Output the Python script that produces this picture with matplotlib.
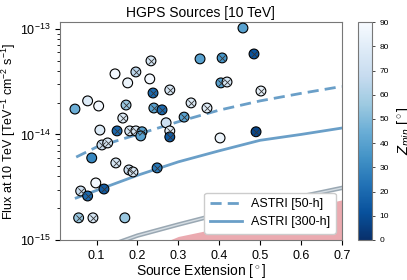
import numpy as np
import matplotlib
matplotlib.use('Agg')
import matplotlib.pyplot as plt

plt.rcParams['font.family'] = ['Liberation Sans', 'DejaVu Sans']
plt.rcParams['mathtext.fontset'] = 'custom'
plt.rcParams['mathtext.rm'] = 'Liberation Sans'
plt.rcParams['mathtext.it'] = 'Liberation Sans:italic'

# HGPS sources: extension [deg], flux at 10 TeV [1e-15 TeV-1 cm-2 s-1], Zmin [deg], flagged (crossed)
ext = [0.458, 0.233, 0.196, 0.145, 0.176, 0.230, 0.353, 0.407, 0.485, 0.238,
       0.279, 0.078, 0.105, 0.047, 0.172, 0.240, 0.260, 0.331, 0.370, 0.404,
       0.419, 0.502, 0.164, 0.314, 0.270, 0.108, 0.150, 0.181, 0.196, 0.211,
       0.208, 0.279, 0.279, 0.402, 0.490, 0.113, 0.127, 0.088, 0.147, 0.179,
       0.189, 0.248, 0.098, 0.061, 0.078, 0.118, 0.056, 0.091, 0.169]
flux = [102.0, 49.8, 39.1, 37.5, 30.8, 33.6, 52.0, 53.1, 57.9, 24.7,
        26.4, 20.8, 18.6, 17.4, 19.0, 17.8, 17.1, 19.9, 17.8, 30.8,
        31.4, 25.8, 14.3, 14.6, 12.9, 11.0, 10.8, 10.8, 10.8, 10.6,
        9.68, 10.8, 9.47, 9.26, 10.6, 7.95, 8.31, 5.99, 5.37, 4.61,
        4.41, 4.82, 3.47, 2.91, 2.61, 3.04, 1.62, 1.62, 1.62]
zmin = [40, 75, 65, 88, 85, 88, 40, 35, 12, 20,
        75, 78, 88, 45, 55, 40, 20, 78, 80, 40,
        75, 82, 78, 40, 70, 78, 20, 75, 75, 40,
        40, 80, 15, 85, 8, 70, 75, 30, 75, 70,
        75, 25, 88, 70, 20, 15, 55, 75, 55]
crossed = [0, 1, 1, 0, 0, 0, 0, 1, 1, 1,
           1, 0, 0, 0, 1, 1, 1, 1, 1, 1,
           1, 1, 1, 1, 0, 0, 1, 1, 1, 1,
           0, 1, 1, 0, 1, 1, 1, 0, 1, 1,
           1, 1, 0, 1, 1, 1, 1, 1, 0]

# sensitivity curves
ext_grid = [0.05, 0.1, 0.2, 0.3, 0.4, 0.5, 0.6, 0.7]
astri_50h = [6.1, 7.6, 10.0, 13.2, 17.0, 20.8, 24.5, 28.5]
astri_300h = [2.5, 2.95, 4.1, 5.5, 7.0, 8.8, 10.0, 11.5]
gray_curve = [0.7, 0.8, 1.1, 1.4, 1.76, 2.14, 2.58, 3.11]
red_grid = [0.2, 0.3, 0.4, 0.5, 0.6, 0.7]
red_curve = [0.75, 1.08, 1.3, 1.6, 1.95, 2.4]

ext = np.array(ext)
flux = np.array(flux) * 1e-15
zmin = np.array(zmin)
crossed = np.array(crossed, dtype=bool)

fig = plt.figure(figsize=(4.07, 2.8), dpi=100)
ax = fig.add_axes([0.147, 0.143, 0.693, 0.778])
cax = fig.add_axes([0.880, 0.143, 0.034, 0.778])

# red band and gray curve
ax.fill_between(red_grid, 1e-16, np.array(red_curve) * 1e-15, color='#ebaab0', lw=0, zorder=1)
ax.plot(ext_grid, np.array(gray_curve) * 1e-15, color='#9aa8b3', lw=3.2, zorder=2)
ax.plot(ext_grid, np.array(gray_curve) * 1e-15, color='#d5dde3', lw=1.0, zorder=2)

ax.plot(ext_grid, np.array(astri_50h) * 1e-15, color='#6a9fc8', lw=2, ls='--',
        dashes=(4, 2.2), label='ASTRI [50-h]', zorder=3)
ax.plot(ext_grid, np.array(astri_300h) * 1e-15, color='#6a9fc8', lw=2,
        label='ASTRI [300-h]', zorder=3)

sc = ax.scatter(ext, flux, c=zmin, cmap='Blues_r', vmin=0, vmax=90, s=50,
                edgecolors='k', linewidths=0.8, zorder=4)
ax.scatter(ext[crossed], flux[crossed], marker='x', s=20, c='#333333',
           linewidths=0.6, zorder=5)

ax.set_yscale('log')
ax.set_xlim(0.01, 0.7)
ax.set_ylim(1e-15, 1.16e-13)
ax.set_xticks([0.1, 0.2, 0.3, 0.4, 0.5, 0.6, 0.7])
ax.tick_params(labelsize=9)
for s in ax.spines.values():
    s.set_color('#777777')

ax.set_title('HGPS Sources [10 TeV]', fontsize=10, pad=4)
ax.set_xlabel(r'Source Extension [$^\circ$]', fontsize=10, labelpad=0)
ax.set_ylabel(r'Flux at 10 TeV [TeV$^{-1}$ cm$^{-2}$ s$^{-1}$]', fontsize=9, labelpad=1)

leg = ax.legend(loc='lower right', fontsize=9, handlelength=2.6, borderpad=0.45,
                labelspacing=0.45, handletextpad=0.7, framealpha=1, edgecolor='#cccccc')

cb = fig.colorbar(sc, cax=cax, ticks=range(0, 91, 10))
cb.ax.tick_params(labelsize=6, length=2, width=0.5)
cb.outline.set_edgecolor('#777777')
cb.set_label(r'$Z_{min}$ [$^\circ$]', fontsize=10.5, labelpad=4)

fig.savefig('out.png', dpi=100)
